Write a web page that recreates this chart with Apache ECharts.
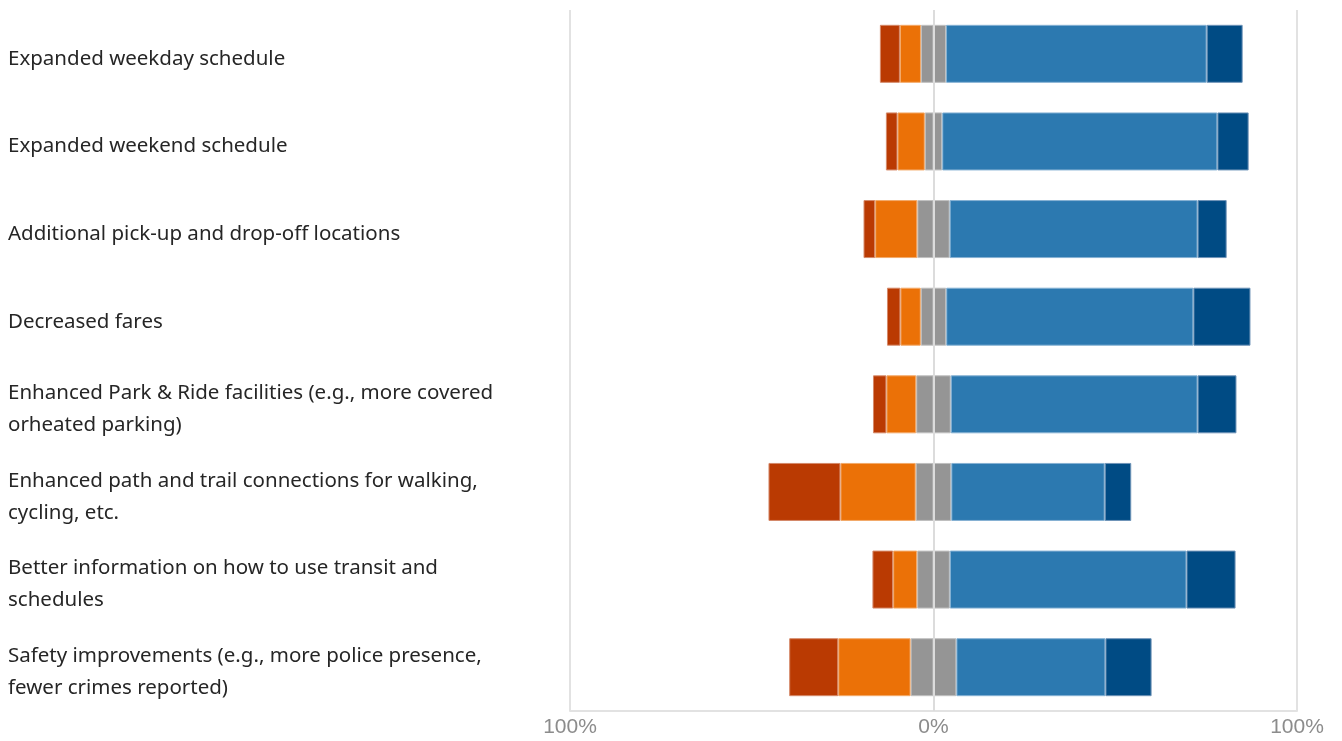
<!DOCTYPE html>
<html>
<head>
<meta charset="utf-8">
<script src="https://cdn.jsdelivr.net/npm/echarts@6/dist/echarts.min.js"></script>
<style>
html,body{margin:0;padding:0;background:#fff;}
#chart{width:1342px;height:741px;}
</style>
</head>
<body>
<div id="chart"></div>
<script>
const categories = [
  "Expanded weekday schedule",
  "Expanded weekend schedule",
  "Additional pick-up and drop-off locations",
  "Decreased fares",
  "Enhanced Park & Ride facilities (e.g., more covered\norheated parking)",
  "Enhanced path and trail connections for walking,\ncycling, etc.",
  "Better information on how to use transit and\nschedules",
  "Safety improvements (e.g., more police presence,\nfewer crimes reported)"
];
const stronglyNegative = [5.5, 3.2, 3.2, 3.7, 3.7, 19.8, 5.7, 13.5];
const negative         = [5.8, 7.5, 11.6, 5.6, 8.2, 20.7, 6.6, 19.9];
const neutral          = [6.9, 4.8, 8.9, 7.0, 9.5, 9.8, 9.0, 12.6];
const positive         = [71.7, 75.7, 68.2, 68.0, 67.9, 42.2, 65.1, 41.0];
const stronglyPositive = [9.9, 8.6, 8.0, 15.7, 10.7, 7.3, 13.5, 12.7];
const tickValues = [-100, 0, 100];

const colors = {
  sneg: '#BA3A02', neg: '#EB7107', neu: '#959595', pos: '#2C79B0', spos: '#004B84'
};
const borders = {
  sneg: '#d58a6a', neg: '#f3aa6a', neu: '#c0c0c0', pos: '#86b2d4', spos: '#6f94b8'
};

function mk(name, data, key, extra) {
  return Object.assign({
    name: name,
    type: 'bar',
    stack: 'total',
    barWidth: 58,
    data: data,
    itemStyle: { color: colors[key], borderColor: borders[key], borderWidth: 1 },
    emphasis: { disabled: true }
  }, extra || {});
}

const series = [
  mk('Neutral (left)', neutral.map(v => -v / 2), 'neu'),
  mk('Negative', negative.map(v => -v), 'neg'),
  mk('Strongly negative', stronglyNegative.map(v => -v), 'sneg'),
  mk('Neutral (right)', neutral.map(v => v / 2), 'neu'),
  mk('Positive', positive, 'pos'),
  mk('Strongly positive', stronglyPositive, 'spos', {
    markLine: {
      silent: true,
      symbol: 'none',
      label: { show: false },
      lineStyle: { color: '#dcdcdc', width: 2, type: 'solid' },
      data: [{ xAxis: 0 }],
      animation: false
    }
  })
];

const chart = echarts.init(document.getElementById('chart'));
chart.setOption({
  animation: false,
  grid: [
    { left: 570, right: 45, top: 10, bottom: 30, containLabel: false },
    { left: 570, right: 45, top: 15, bottom: 25, containLabel: false }
  ],
  xAxis: [{
    type: 'value',
    gridIndex: 0,
    min: tickValues[0],
    max: tickValues[tickValues.length - 1],
    interval: 100,
    axisLine: { show: true, lineStyle: { color: '#e2e2e2', width: 2 } },
    axisTick: { show: false },
    splitLine: { show: true, lineStyle: { color: '#e2e2e2', width: 2 } },
    axisLabel: {
      formatter: v => Math.abs(v) + '%',
      color: '#8c8c8c',
      fontFamily: 'Liberation Sans',
      fontSize: 21,
      margin: 6
    }
  }, {
    type: 'value',
    gridIndex: 1,
    show: false
  }],
  yAxis: [{
    type: 'category',
    gridIndex: 0,
    data: categories,
    inverse: true,
    axisLine: { show: false },
    axisTick: { show: false },
    axisLabel: { show: false }
  }, {
    type: 'category',
    gridIndex: 1,
    data: categories,
    inverse: true,
    axisLine: { show: false },
    axisTick: { show: false },
    splitLine: { show: false },
    axisLabel: {
      align: 'left',
      margin: 562,
      color: '#262626',
      fontFamily: 'Noto Sans',
      fontSize: 20.5,
      lineHeight: 32
    }
  }],
  series: series
});
</script>
</body>
</html>
